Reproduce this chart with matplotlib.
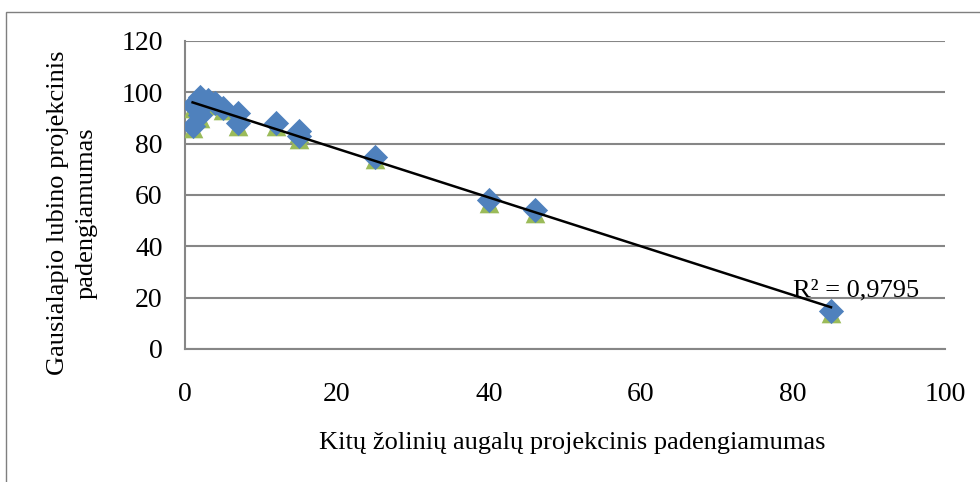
import numpy as np
import matplotlib
matplotlib.use('Agg')
from matplotlib import pyplot as plt
from matplotlib.patches import Rectangle

plt.rcParams['font.family'] = ['Liberation Serif', 'DejaVu Serif']

# cover of other herbs (x) vs. lupin cover (two series)
other_cover = [1, 1, 2, 2, 3, 4, 5, 7, 7, 12, 15, 15, 25, 40, 46, 85]
lupin_cover = [95, 87, 98, 91, 97, 96, 94, 92, 88, 88, 85, 83, 75, 58, 54, 15]
lupin_cover_2 = [94, 86, 97, 90, 96, 95, 93, 91, 87, 87, 84, 82, 74, 57, 53, 14]

x_ticks = [0, 20, 40, 60, 80, 100]
y_ticks = [0, 20, 40, 60, 80, 100, 120]
r2_label = 'R² = 0,9795'

W, H = 980, 482
fig = plt.figure(figsize=(W/100, H/100), dpi=100)
ax = fig.add_axes([185/W, 1-349/H, (945-185)/W, (349-41)/H])

grey = '#868686'
ax.scatter(other_cover, lupin_cover_2, marker='^', s=200, color='#9BBB59',
           linewidths=0, zorder=3)
ax.scatter(other_cover, lupin_cover, marker='D', s=165, color='#4F81BD',
           linewidths=0, zorder=4)

# linear trend line over the first series
k, b = np.polyfit(other_cover, lupin_cover, 1)
xs = np.array([min(other_cover), max(other_cover)])
ax.plot(xs, k*xs + b, color='black', lw=1.8, zorder=5)
ax.text(80.0, 20.3, r2_label, fontsize=19, va='baseline', ha='left', zorder=6)

ax.set_xlim(0, 100)
ax.set_ylim(0, 120)
ax.set_xticks(x_ticks)
ax.set_yticks(y_ticks)
ax.tick_params(length=0, labelsize=20)
ax.tick_params(axis='x', pad=24)
ax.tick_params(axis='y', pad=16)
ax.yaxis.grid(True, color=grey, lw=1.5)
ax.set_axisbelow(True)
for side in ['top', 'right']:
    ax.spines[side].set_visible(False)
for side in ['left', 'bottom']:
    ax.spines[side].set_color(grey)
    ax.spines[side].set_linewidth(1.5)

fig.text(572/W, 1-443/H, 'Kitų žolinių augalų projekcinis padengiamumas',
         fontsize=19, ha='center', va='center')
fig.text(72/W, 1-213/H, 'Gausialapio lubino projekcinis\npadengiamumas',
         fontsize=19, ha='center', va='center', rotation=90,
         multialignment='center', linespacing=1.4)

# chart frame
fig.patches.append(Rectangle((6/W, -0.5), 2, 0.5 + 1 - 12/H,
                             transform=fig.transFigure, fill=False,
                             edgecolor='#7f7f7f', lw=1))

fig.savefig('out.png', dpi=100)
